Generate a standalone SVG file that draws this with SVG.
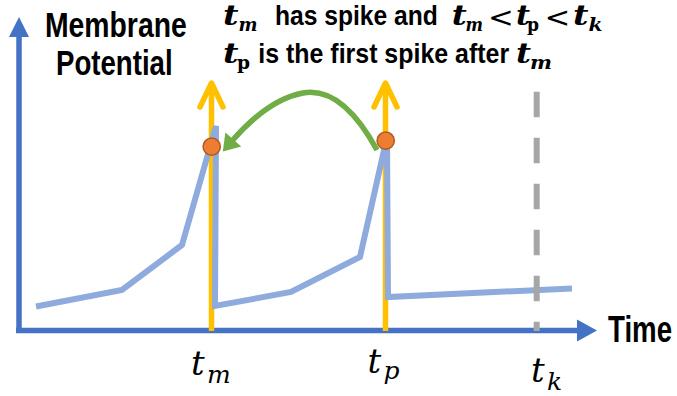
<svg xmlns="http://www.w3.org/2000/svg" width="677" height="396" viewBox="0 0 677 396">
<style>
.lbl{font-family:"Liberation Sans",Arial,sans-serif;font-weight:bold;fill:#000}
.mb{font-family:"DejaVu Serif","Liberation Serif",serif;font-weight:bold;font-style:italic;fill:#000}
.mbu{font-family:"DejaVu Serif","Liberation Serif",serif;font-weight:bold;fill:#000}
.mi{font-family:"DejaVu Serif","Liberation Serif",serif;font-style:italic;fill:#000}
.lt{font-family:"DejaVu Sans","Liberation Sans",sans-serif;fill:#000}
.axis{stroke:#4472C4;stroke-width:5.5;fill:none}
.axhead{fill:#4472C4}
.spike{stroke:#FFC000;stroke-width:5.5;fill:none;stroke-linecap:round;stroke-linejoin:round}
.spikeline{stroke:#FFC000;stroke-width:5.5;fill:none}
.dot{fill:#ED7D31;stroke:#AE5A21;stroke-width:1.5}
</style>
<defs>
<marker id="greenHead" markerUnits="userSpaceOnUse" markerWidth="24" markerHeight="24" viewBox="0 -12 20 24" refX="2" refY="0" orient="auto">
<path d="M0,-10.5 L16,0 L0,10.5 Z" fill="#70AD47"/>
</marker>
</defs>

<g id="axes">
<line class="axis" x1="19" y1="333" x2="19" y2="34"/>
<polygon class="axhead" points="9,37 29,37 19,17"/>
<line class="axis" x1="16" y1="330.5" x2="579" y2="330.5"/>
<polygon class="axhead" points="577,319.5 577,341.5 597,330.5"/>
</g>

<g id="axis-labels">
<text class="lbl" transform="translate(45,36.7) scale(0.81,1)" font-size="35">Membrane</text>
<text class="lbl" transform="translate(56,75) scale(0.79,1)" font-size="35">Potential</text>
<text class="lbl" transform="translate(608,341.5) scale(0.768,1)" font-size="36">Time</text>
</g>

<g id="spike-m">
<line class="spikeline" x1="211.5" y1="331" x2="211.5" y2="86"/>
<polyline class="spike" points="200,107 211.5,83 223,107"/>
</g>
<g id="spike-p">
<line class="spikeline" x1="385.5" y1="331" x2="385.5" y2="86"/>
<polyline class="spike" points="374,107 385.5,83 397,107"/>
</g>

<g id="membrane">
<polyline points="36,306.5 122,290 182,245 216,126 215,306 291,292 360,257 387,137 388,297 572,288.5" fill="none" stroke="#8FAADC" stroke-width="6"/>
</g>

<g id="tk-line">
<line x1="536.7" y1="91.7" x2="536.7" y2="331" stroke="#A6A6A6" stroke-width="6" stroke-dasharray="25.5 20.5"/>
</g>

<g id="connectors">
<path d="M377,150 C355,110 330,88 303,93 C276,98 252,118 232,141" fill="none" stroke="#70AD47" stroke-width="5.5" marker-end="url(#greenHead)"/>
</g>

<g id="dot-m"><circle class="dot" cx="211.7" cy="146.7" r="8.6"/></g>
<g id="dot-p"><circle class="dot" cx="385.7" cy="140.7" r="8.6"/></g>

<g id="title">
<text class="mb" x="223" y="25" font-size="27" textLength="15.5" lengthAdjust="spacingAndGlyphs">t</text>
<text class="mb" x="238.5" y="30.5" font-size="19" textLength="19" lengthAdjust="spacingAndGlyphs">m</text>
<text class="lbl" transform="translate(275,25) scale(0.88,1)" font-size="28">has spike and</text>
<text class="mb" x="451.7" y="25" font-size="27" textLength="15" lengthAdjust="spacingAndGlyphs">t</text>
<text class="mb" x="465.5" y="30.5" font-size="19" textLength="17.5" lengthAdjust="spacingAndGlyphs">m</text>
<text class="lt" transform="translate(500.8,26.5) scale(1.1,1)" font-size="28" text-anchor="middle">&lt;</text>
<text class="mb" x="516" y="25" font-size="27" textLength="14" lengthAdjust="spacingAndGlyphs">t</text>
<text class="mbu" x="527" y="30.5" font-size="19" textLength="12" lengthAdjust="spacingAndGlyphs">p</text>
<text class="lt" transform="translate(557.3,26.5) scale(1.1,1)" font-size="28" text-anchor="middle">&lt;</text>
<text class="mb" x="573" y="25" font-size="27" textLength="15.5" lengthAdjust="spacingAndGlyphs">t</text>
<text class="mb" x="588.5" y="30.5" font-size="19" textLength="14" lengthAdjust="spacingAndGlyphs">k</text>

<text class="mb" x="223" y="63.3" font-size="27" textLength="15.5" lengthAdjust="spacingAndGlyphs">t</text>
<text class="mbu" x="237" y="69" font-size="19" textLength="13" lengthAdjust="spacingAndGlyphs">p</text>
<text class="lbl" transform="translate(258.3,63.3) scale(0.891,1)" font-size="28">is the first spike after</text>
<text class="mb" x="516" y="63.3" font-size="27" textLength="15" lengthAdjust="spacingAndGlyphs">t</text>
<text class="mb" x="530" y="69" font-size="19" textLength="22" lengthAdjust="spacingAndGlyphs">m</text>
</g>

<g id="time-labels">
<text class="mi" x="191" y="375" font-size="34">t</text>
<text class="mi" x="207" y="383.3" font-size="25">m</text>
<text class="mi" x="367.5" y="373.3" font-size="34">t</text>
<text class="mi" x="383.5" y="379" font-size="25">p</text>
<text class="mi" x="531" y="381.7" font-size="34">t</text>
<text class="mi" x="547" y="390" font-size="25">k</text>
</g>
</svg>
